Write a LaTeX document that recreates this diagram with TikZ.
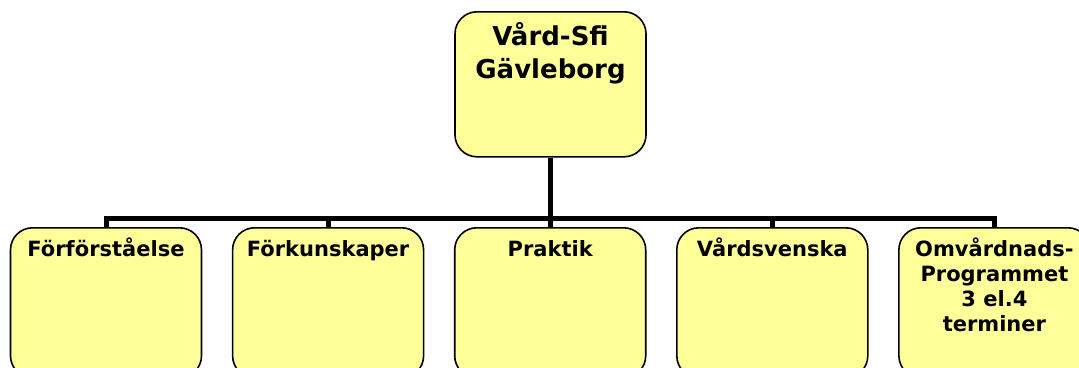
\documentclass[tikz,border=0pt]{standalone}
\usepackage{fontspec}
\setmainfont{DejaVu Sans}
\usetikzlibrary{positioning}
\definecolor{boxyellow}{HTML}{FFFF99}
\tikzset{orgbox/.style={draw=black, line width=1.6pt, fill=boxyellow, rounded corners=22pt, minimum width=191pt, inner sep=0pt},
  toptext/.style={font=\bfseries\fontsize{26}{33}\selectfont, align=center, anchor=base, inner sep=0pt},
  subtext/.style={font=\bfseries\fontsize{21}{25}\selectfont, align=center, anchor=base, inner sep=0pt},
  conn/.style={line width=5pt}}

\begin{document}
\begin{tikzpicture}[x=1pt, y=-1pt]
                 \useasboundingbox (0,0) rectangle (1079,367);

                 % base anchor sits on the last line
                 \node[orgbox, minimum height=145pt, anchor=north,
                   label={[toptext, yshift=-67pt]north:Vård-Sfi\\Gävleborg}] (top) at (550.5,11) {};

                 \node[orgbox, minimum height=150pt, anchor=north,
                   label={[subtext, yshift=-29pt]north:Förförståelse}] (b1) at (106,227) {};
                 \node[orgbox, minimum height=150pt, right=29.5pt of b1,
                   label={[subtext, yshift=-29pt]north:Förkunskaper}] (b2) {};
                 \node[orgbox, minimum height=150pt, right=29.5pt of b2,
                   label={[subtext, yshift=-29pt]north:Praktik}] (b3) {};
                 \node[orgbox, minimum height=150pt, right=29.5pt of b3,
                   label={[subtext, yshift=-29pt]north:Vårdsvenska}] (b4) {};
                 \node[orgbox, minimum height=150pt, right=29.5pt of b4,
                   label={[subtext, yshift=-104pt]north:Omvårdnads-\\Programmet\\3 el.4\\terminer}] (b5) {};

                 \coordinate (bar) at (0,218);

                 % connectors
                 \draw[conn](top.south)--(top.south |- bar);
                 \draw[conn](b1.north)--(b1.north |- bar)--(b5.north |- bar)--(b5.north);
                 \draw[conn](b2.north)--(b2.north |- bar);
                 \draw[conn](b3.north)--(b3.north |- bar);
                 \draw[conn](b4.north)--(b4.north |- bar);
             \end{tikzpicture}
\end{document}
